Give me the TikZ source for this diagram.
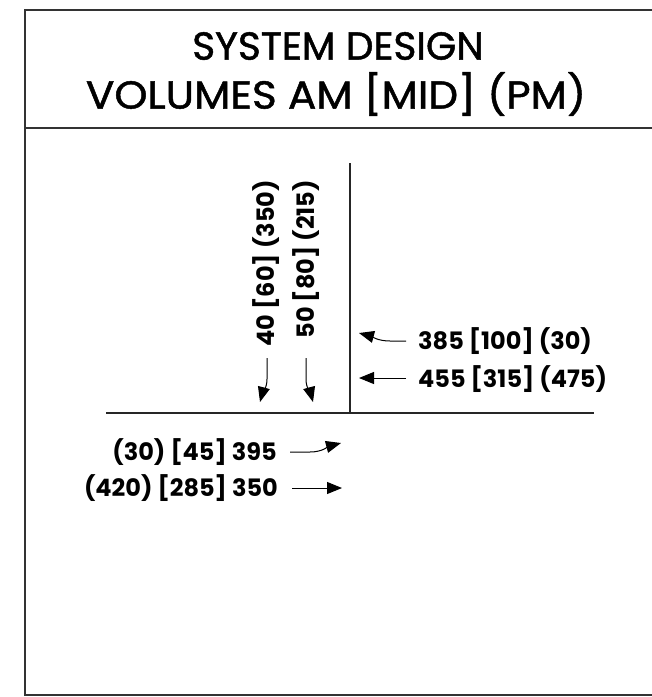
\documentclass[tikz,border=0pt]{standalone}
\usepackage{fontspec}
\setmainfont{Poppins}
\newfontfamily\titlefont[FakeBold=1.2]{Poppins}
\usetikzlibrary{arrows.meta}
\tikzset{
  frame/.style={draw=black!80, line width=1.6pt},
  road/.style={draw=black!85, line width=1.2pt},
  flow/.style={draw=black, line width=1pt, -{Triangle[length=15pt,width=12pt]}},
  lab/.style={font=\fontsize{24}{26}\selectfont\bfseries, inner sep=0pt},
  ttl/.style={font=\titlefont\fontsize{39}{42}\selectfont, inner sep=0pt}
}
\begin{document}
\begin{tikzpicture}[x=1pt,y=-1pt]
\useasboundingbox (0,0) rectangle (652,697);
% frame
\coordinate (tl) at (25,10);
\coordinate (tr) at (652,10);
\coordinate (bl) at (25,695);
\coordinate (br) at (652,695);
\coordinate (sl) at (25,128);
\coordinate (sr) at (652,128);
\draw[frame] (tr) -- (tl) -- (bl) -- (br);
\draw[frame] (sl) -- (sr);
% title
\node[ttl] (t1) at (338,46) {SYSTEM DESIGN};
\node[ttl] (t2) at (336,94) {\scalebox{1.08}[1]{VOLUMES AM [MID] (PM)}};
% roads
\coordinate (vtop) at (350,163);
\coordinate (vbot) at (350,413);
\coordinate (hl) at (106,413);
\coordinate (hr) at (594,413);
\draw[road] (vtop) -- (vbot);
\draw[road] (hl) -- (hr);
% southbound labels (vertical)
\node[lab, rotate=90, anchor=east] (s1) at (266,180) {40 [60] (350)};
\node[lab, rotate=90, anchor=east] (s2) at (306,180) {50 [80] (215)};
\coordinate (s1a) at (267,358);
\coordinate (s1b) at (260,402);
\coordinate (s2a) at (306,358);
\coordinate (s2b) at (313,402);
\draw[flow] (s1a) -- (267,379) to[out=-90,in=75] (s1b);
\draw[flow] (s2a) -- (306,379) to[out=-90,in=105] (s2b);
% westbound labels
\node[lab, anchor=west] (w1) at (418,341) {385 [100] (30)};
\node[lab, anchor=west] (w2) at (418,379) {455 [315] (475)};
\coordinate (w1a) at (406,341);
\coordinate (w1b) at (359,333);
\coordinate (w2a) at (406,378);
\coordinate (w2b) at (359,378);
\draw[flow] (w1a) -- (390,341) to[out=180,in=-15] (w1b);
\draw[flow] (w2a) -- (w2b);
% eastbound labels
\node[lab, anchor=east] (e1) at (277,452) {(30) [45] 395};
\node[lab, anchor=east] (e2) at (278,488) {(420) [285] 350};
\coordinate (e1a) at (290,452);
\coordinate (e1b) at (341,443);
\coordinate (e2a) at (292,488);
\coordinate (e2b) at (342,488);
\draw[flow] (e1a) -- (310,452) to[out=0,in=195] (e1b);
\draw[flow] (e2a) -- (e2b);
\end{tikzpicture}
\end{document}
